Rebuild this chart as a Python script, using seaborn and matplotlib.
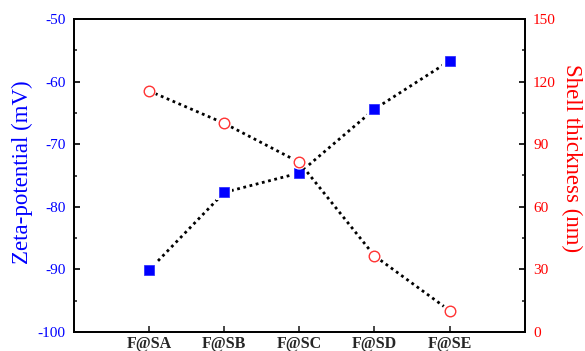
import matplotlib
matplotlib.use("Agg")
import matplotlib.pyplot as plt
from matplotlib.ticker import MultipleLocator
import seaborn as sns
import pandas as pd

samples = ["F@SA", "F@SB", "F@SC", "F@SD", "F@SE"]
zeta = [-90.1, -77.7, -74.6, -64.4, -56.7]
shell = [115.5, 100.0, 81.3, 36.5, 10.3]

sns.set_style("ticks")
plt.rcParams["font.family"] = ["Liberation Serif", "DejaVu Serif"]
plt.rcParams["axes.unicode_minus"] = False

df = pd.DataFrame({"pos": range(1, len(samples) + 1), "zeta": zeta, "shell": shell})

fig = plt.figure(figsize=(5.85, 3.51), dpi=100)
ax = fig.add_axes([0.1265, 0.054, 0.7705, 0.892])
ax2 = ax.twinx()

dots = (0, (1.0, 1.3))
# blue series
sns.lineplot(data=df, x="pos", y="zeta", ax=ax, color="black", linestyle=dots,
             linewidth=2.0, zorder=2)
sns.scatterplot(data=df, x="pos", y="zeta", ax=ax, marker="s", s=11.5**2,
                color="white", edgecolor="none", zorder=3)
sns.scatterplot(data=df, x="pos", y="zeta", ax=ax, marker="s", s=7.4**2,
                color="#0000ff", edgecolor="#2222ff", linewidth=0.5, zorder=4)
# red series
sns.lineplot(data=df, x="pos", y="shell", ax=ax2, color="black", linestyle=dots,
             linewidth=2.0, zorder=2)
sns.scatterplot(data=df, x="pos", y="shell", ax=ax2, marker="o", s=10.5**2,
                color="white", edgecolor="none", zorder=3)
sns.scatterplot(data=df, x="pos", y="shell", ax=ax2, marker="o", s=7.6**2,
                color="white", edgecolor="#ff3333", linewidth=1.0, zorder=4)

ax.set_xlim(0, 6)
ax.set_xticks(df["pos"])
ax.set_xticklabels(samples, fontweight="bold", fontsize=11.5)
ax.set_xlabel("")
ax.set_ylim(-100, -50)
ax.yaxis.set_major_locator(MultipleLocator(10))
ax.yaxis.set_minor_locator(MultipleLocator(5))
ax2.set_ylim(0, 150)
ax2.yaxis.set_major_locator(MultipleLocator(30))
ax2.yaxis.set_minor_locator(MultipleLocator(15))

ax.set_ylabel("Zeta-potential (mV)", color="#0000ff", fontsize=16.5, va="center")
ax.yaxis.set_label_coords(-0.115, 0.51)
ax2.set_ylabel("Shell thickness (nm)", color="#ff0000", fontsize=16.5,
               rotation=270, va="center")
ax2.yaxis.set_label_coords(1.104, 0.555)

ax.tick_params(axis="y", which="major", direction="in", length=4, width=1.2,
               colors="black", labelcolor="#0000ff", labelsize=11, pad=6)
ax.tick_params(axis="y", which="minor", direction="in", length=2.5, width=1.2)
ax.tick_params(axis="x", which="major", direction="in", length=4, width=1.2,
               labelsize=11.5, pad=2.5, top=False)
ax2.tick_params(axis="y", which="major", direction="in", length=4, width=1.2,
                colors="black", labelcolor="#ff0000", labelsize=11, pad=6)
ax2.tick_params(axis="y", which="minor", direction="in", length=2.5, width=1.2)

for a in (ax, ax2):
    for s in a.spines.values():
        s.set_visible(True)
        s.set_linewidth(1.3)
        s.set_color("black")
    a.grid(False)

fig.savefig("out.png", dpi=100)
